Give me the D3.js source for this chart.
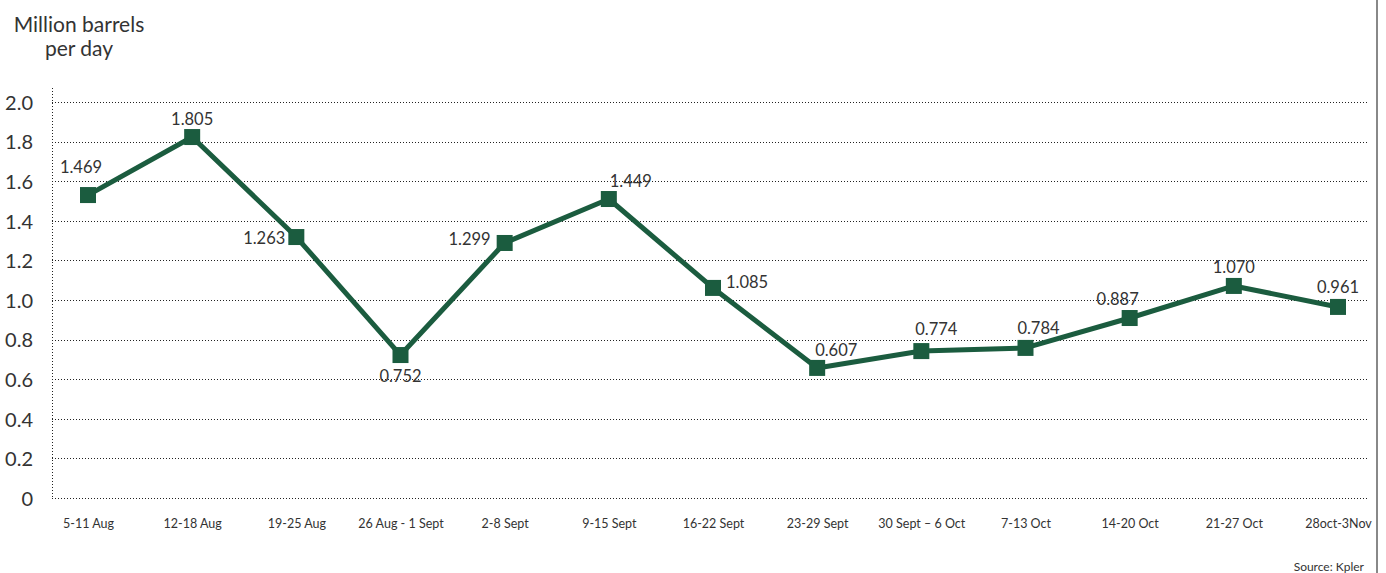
<!doctype html>
<html>
<head>
<meta charset="utf-8">
<title>Million barrels per day</title>
<script src="https://cdnjs.cloudflare.com/ajax/libs/d3/7.8.5/d3.min.js"></script>
<style>
  body { margin: 0; background: #fff; }
  text { font-family: Lato, "Open Sans", sans-serif; fill: #333; }
</style>
</head>
<body>
<div id="chart"></div>
<script>
// weeks
var weeks = ["5-11 Aug", "12-18 Aug", "19-25 Aug", "26 Aug - 1 Sept", "2-8 Sept", "9-15 Sept",
  "16-22 Sept", "23-29 Sept", "30 Sept \u2013 6 Oct", "7-13 Oct", "14-20 Oct", "21-27 Oct", "28oct-3Nov"];
// plotted values
var values = [1.53, 1.823, 1.318, 0.722, 1.288, 1.51, 1.061, 0.657, 0.742, 0.758, 0.909, 1.071, 0.965];
// printed labels
var labels = ["1.469", "1.805", "1.263", "0.752", "1.299", "1.449", "1.085", "0.607", "0.774", "0.784", "0.887", "1.070", "0.961"];
var yTicks = [0, 0.2, 0.4, 0.6, 0.8, 1.0, 1.2, 1.4, 1.6, 1.8, 2.0];

// label placement next to each marker: [dx, dy, anchor]
var labelPlace = [[-7, -22, "middle"], [0, -12, "middle"], [-11, 7, "end"], [0, 27, "middle"],
  [-14, 2, "end"], [22, -12, "middle"], [13, 0, "start"], [-2, -12, "start"], [15, -16, "middle"],
  [13, -14, "middle"], [-12, -13, "middle"], [0, -13, "middle"], [0, -14, "middle"]];

var W = 1386, H = 573;
var plotLeft = 52, plotRight = 1367, plotTop = 102, plotBottom = 498;

var svg = d3.select("#chart").append("svg")
  .attr("width", W)
  .attr("height", H);

var x = d3.scalePoint().domain(weeks).range([88, 1338]);
var y = d3.scaleLinear().domain([0, 2]).range([plotBottom, plotTop]);

var green = "#1b5c3f";

// gridlines
svg.append("g").selectAll("line")
  .data(yTicks)
  .enter().append("line")
  .attr("x1", plotLeft)
  .attr("x2", plotRight)
  .attr("y1", function(d) { return Math.round(y(d)) + 0.5; })
  .attr("y2", function(d) { return Math.round(y(d)) + 0.5; })
  .attr("stroke", "#222")
  .attr("stroke-width", 1)
  .attr("stroke-dasharray", "1,2");

// vertical axis line
svg.append("line")
  .attr("x1", plotLeft + 0.5).attr("x2", plotLeft + 0.5)
  .attr("y1", 88).attr("y2", plotBottom)
  .attr("stroke", "#222")
  .attr("stroke-dasharray", "1,2");

// y tick labels
var yAxis = d3.axisLeft(y)
  .tickValues(yTicks)
  .tickSize(0)
  .tickPadding(0)
  .tickFormat(function(d) { return d === 0 ? "0" : d3.format(".1f")(d); });

var yg = svg.append("g")
  .attr("transform", "translate(33,0)")
  .call(yAxis);
yg.select(".domain").remove();
yg.selectAll("text")
  .attr("font-size", "20px")
  .attr("font-family", null)
  .attr("dy", "0.36em");

// x labels
var xAxis = d3.axisBottom(x).tickSize(0).tickPadding(0);
var xg = svg.append("g")
  .attr("transform", "translate(0,519)")
  .call(xAxis);
xg.select(".domain").remove();
xg.selectAll("text")
  .attr("font-size", "12.5px")
  .attr("font-family", null)
  .attr("dy", "0.71em");

// axis title
svg.append("text")
  .attr("x", 79).attr("y", 32)
  .attr("text-anchor", "middle")
  .attr("font-size", "21px")
  .text("Million barrels");
svg.append("text")
  .attr("x", 79).attr("y", 56)
  .attr("text-anchor", "middle")
  .attr("font-size", "21px")
  .text("per day");

// line
var line = d3.line()
  .x(function(d, i) { return x(weeks[i]); })
  .y(function(d) { return y(d); });

svg.append("path")
  .attr("d", line(values))
  .attr("fill", "none")
  .attr("stroke", green)
  .attr("stroke-width", 5)
  .attr("stroke-linejoin", "round");

// square markers
svg.append("g").selectAll("rect")
  .data(values)
  .enter().append("rect")
  .attr("x", function(d, i) { return x(weeks[i]) - 8; })
  .attr("y", function(d) { return y(d) - 8; })
  .attr("width", 16)
  .attr("height", 16)
  .attr("fill", green);

// value labels
svg.append("g").selectAll("text")
  .data(values)
  .enter().append("text")
  .attr("x", function(d, i) { return x(weeks[i]) + labelPlace[i][0]; })
  .attr("y", function(d, i) { return y(d) + labelPlace[i][1]; })
  .attr("text-anchor", function(d, i) { return labelPlace[i][2]; })
  .attr("font-size", "16.5px")
  .text(function(d, i) { return labels[i]; });

// source
svg.append("text")
  .attr("x", 1364).attr("y", 571)
  .attr("text-anchor", "end")
  .attr("font-size", "12px")
  .text("Source: Kpler");

// right border
svg.append("line")
  .attr("x1", 1377).attr("x2", 1377)
  .attr("y1", 0).attr("y2", H)
  .attr("stroke", "#888")
  .attr("stroke-width", 2);
</script>
</body>
</html>
